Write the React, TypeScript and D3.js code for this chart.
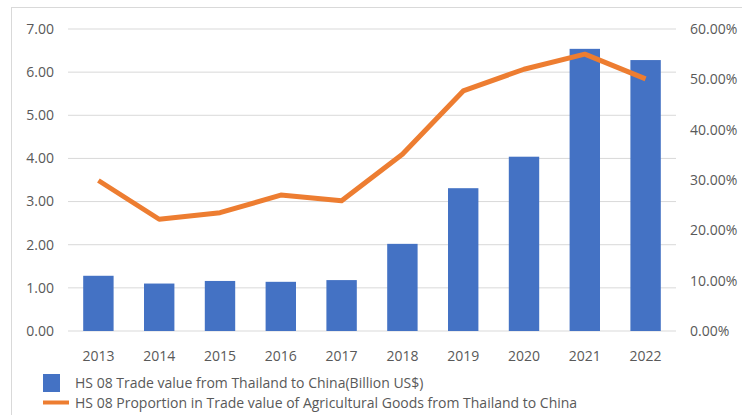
import React from "react";
import * as d3 from "d3";

const years = ["2013","2014","2015","2016","2017","2018","2019","2020","2021","2022"];
const tradeValue = [1.28, 1.10, 1.16, 1.14, 1.18, 2.02, 3.31, 4.04, 6.54, 6.28];
const proportion = [29.9, 22.2, 23.5, 27.0, 25.9, 35.1, 47.7, 52.0, 55.0, 50.1];
const leftTicks = [0, 1, 2, 3, 4, 5, 6, 7];
const rightTicks = [0, 10, 20, 30, 40, 50, 60];
const legendLabels = [
  "HS 08 Trade value from Thailand to China(Billion US$)",
  "HS 08 Proportion in Trade value of Agricultural Goods from Thailand to China",
];

const W = 742, H = 415;
const plot = { left: 68, right: 676, top: 29, bottom: 331 };
const font = "'Open Sans', 'Noto Sans', sans-serif";
const textColor = "#595959";

export default function App() {
  const x = d3.scaleBand().domain(years).range([plot.left, plot.right]).paddingInner(0.5).paddingOuter(0.25);
  const yL = d3.scaleLinear().domain([0, 7]).range([plot.bottom, plot.top]);
  const yR = d3.scaleLinear().domain([0, 60]).range([plot.bottom, plot.top]);
  const line = d3.line<number>()
    .x((_, i) => (x(years[i]) as number) + x.bandwidth() / 2)
    .y((d) => yR(d));
  return (
    <svg width={W} height={H} style={{ position: "absolute", left: 0, top: 0, background: "#fff" }}>
      <rect x={0} y={0} width={W} height={H} fill="#fff" />
      <rect x={11.5} y={7.5} width={800} height={500} fill="none" stroke="#d9d9d9" strokeWidth={1} />
      {leftTicks.map((t) => (
        <line key={t} x1={plot.left} x2={plot.right} y1={yL(t)} y2={yL(t)} stroke="#d9d9d9" strokeWidth={1} />
      ))}
      {leftTicks.map((t) => (
        <text key={"l" + t} x={54} y={yL(t)} dy="0.35em" textAnchor="end" fontFamily={font} fontSize={14} fill={textColor}>
          {d3.format(".2f")(t)}
        </text>
      ))}
      {rightTicks.map((t) => (
        <text key={"r" + t} x={690} y={yR(t)} dy="0.35em" textAnchor="start" fontFamily={font} fontSize={14} fill={textColor}>
          {d3.format(".2f")(t) + "%"}
        </text>
      ))}
      {tradeValue.map((v, i) => (
        <rect key={years[i]} x={x(years[i])} y={yL(v)} width={x.bandwidth()} height={yL(0) - yL(v)} fill="#4472C4" />
      ))}
      <path d={line(proportion) || ""} fill="none" stroke="#ED7D31" strokeWidth={5} strokeLinejoin="round" strokeLinecap="butt" />
      {years.map((yr) => (
        <text key={"x" + yr} x={(x(yr) as number) + x.bandwidth() / 2} y={356} dy="0.35em" textAnchor="middle" fontFamily={font} fontSize={14} fill={textColor}>
          {yr}
        </text>
      ))}
      <rect x={43} y={374} width={17} height={18} fill="#4472C4" />
      <text x={75} y={383} dy="0.35em" fontFamily={font} fontSize={14} fill={textColor}>{legendLabels[0]}</text>
      <line x1={43} x2={69} y1={402.5} y2={402.5} stroke="#ED7D31" strokeWidth={4} />
      <text x={75} y={403} dy="0.35em" fontFamily={font} fontSize={14} fill={textColor}>{legendLabels[1]}</text>
    </svg>
  );
}
